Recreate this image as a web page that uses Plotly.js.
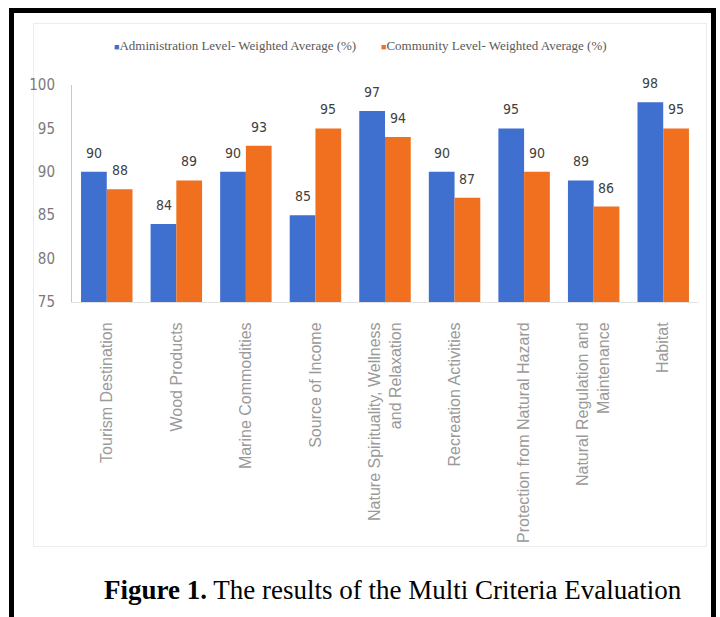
<!DOCTYPE html>
<html>
<head>
<meta charset="utf-8">
<script src="https://cdn.plot.ly/plotly-3.0.1.min.js"></script>
<style>
  html, body { margin:0; padding:0; width:720px; height:617px; overflow:hidden; background:#fff; }
  #frame { position:absolute; left:9px; top:8px; width:697px; height:640px; border:5px solid #000; border-bottom:none; }
  #box { position:absolute; left:33px; top:23px; width:672px; height:522px; border:1px solid #ececec; }
  #chart { position:absolute; left:0; top:0; width:720px; height:617px; }
</style>
</head>
<body>
<div id="frame"></div>
<div id="box"></div>
<div id="chart"></div>
<script>
const categories = [
  'Tourism Destination',
  'Wood Products',
  'Marine Commodities',
  'Source of Income',
  'Nature Spirituality, Wellness<br>and Relaxation',
  'Recreation Activities',
  'Protection from Natural Hazard',
  'Natural Regulation and<br>Maintenance',
  'Habitat'
];
const seriesNames = [
  'Administration Level- Weighted Average (%)',
  'Community Level- Weighted Average (%)'
];
const adminValues = [90, 84, 90, 85, 97, 90, 95, 89, 98];
const communityValues = [88, 89, 93, 95, 94, 87, 90, 86, 95];
const yTickValues = [75, 80, 85, 90, 95, 100];
const caption = '<b>Figure 1.</b> The results of the Multi Criteria Evaluation';

const blue = '#3f6fcf';
const orange = '#f0701f';
const barShift = 12.8;
const narrow = 'DejaVu Sans Condensed, Liberation Sans Narrow, Arial Narrow, Liberation Sans, sans-serif';

const traces = [
  { type:'bar', name:seriesNames[0], x:categories, y:adminValues, marker:{color:blue}, showlegend:false, hoverinfo:'skip' },
  { type:'bar', name:seriesNames[1], x:categories, y:communityValues, marker:{color:orange}, showlegend:false, hoverinfo:'skip' }
];

const annotations = [];
const labelFont = { family:narrow, size:14, color:'#404040' };
categories.forEach((c, i) => {
  annotations.push({ x:c, y:adminValues[i], xref:'x', yref:'y', text:String(adminValues[i]), showarrow:false,
    xshift:-barShift, yshift:9, yanchor:'bottom', font:labelFont });
  annotations.push({ x:c, y:communityValues[i], xref:'x', yref:'y', text:String(communityValues[i]), showarrow:false,
    xshift:barShift, yshift:9, yanchor:'bottom', font:labelFont });
});
const legendFont = { family:'Liberation Serif, serif', size:13, color:'#595959' };
annotations.push({ xref:'paper', yref:'paper', x:0.064, y:1.184, xanchor:'left', yanchor:'middle', showarrow:false,
  text:'<span style="color:' + blue + ';font-size:9px">■</span>' + seriesNames[0], font:legendFont });
annotations.push({ xref:'paper', yref:'paper', x:0.490, y:1.184, xanchor:'left', yanchor:'middle', showarrow:false,
  text:'<span style="color:' + orange + ';font-size:9px">■</span>' + seriesNames[1], font:legendFont });
annotations.push({ xref:'paper', yref:'paper', x:0.513, y:-1.327, xanchor:'center', yanchor:'middle', showarrow:false,
  text:caption, font:{ family:'Liberation Serif, serif', size:27, color:'#000' } });

const layout = {
  width:720, height:617,
  margin:{ l:72, r:22, t:85, b:315 },
  paper_bgcolor:'rgba(0,0,0,0)',
  plot_bgcolor:'rgba(0,0,0,0)',
  barmode:'group',
  bargap:0.26,
  bargroupgap:0,
  showlegend:false,
  xaxis:{
    type:'category',
    tickangle:-90,
    showline:true, linecolor:'#e3e3e3', linewidth:1,
    ticks:'', showgrid:false,
    ticklabelstandoff:13,
    tickfont:{ family:'Liberation Sans, Arial, sans-serif', size:16, color:'#9a9a9a' }
  },
  yaxis:{
    range:[75, 100],
    tickvals:yTickValues,
    showline:true, linecolor:'#c8c8c8', linewidth:1,
    ticks:'', showgrid:false, zeroline:false,
    ticklabelstandoff:13,
    tickfont:{ family:narrow, size:15, color:'#7a7a7a' }
  },
  annotations:annotations
};

Plotly.newPlot('chart', traces, layout, { staticPlot:true, displayModeBar:false });
</script>
</body>
</html>
